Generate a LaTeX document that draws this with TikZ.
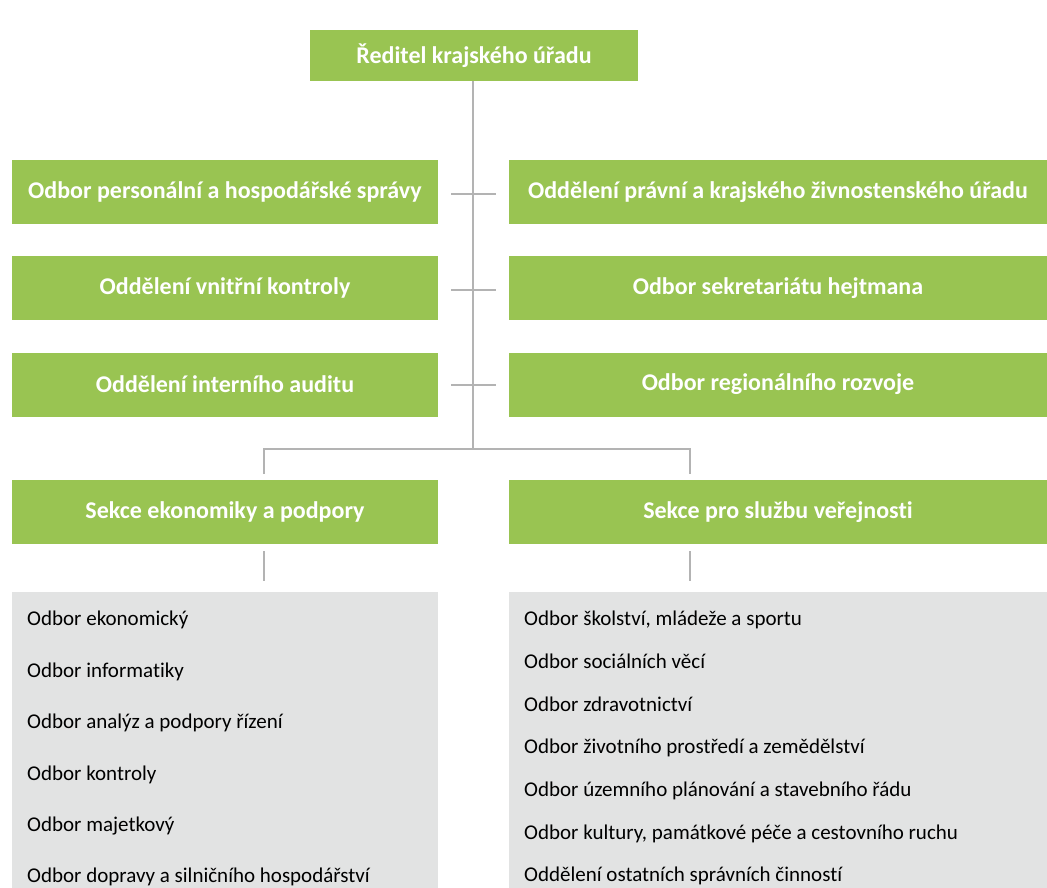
\documentclass[tikz,border=0pt]{standalone}
\usepackage{fontspec}
\setmainfont{Carlito}[RawFeature={-liga;-clig;-calt;-dlig}]
\definecolor{grn}{HTML}{99C452}
\definecolor{lgray}{HTML}{E2E3E3}
\definecolor{lnc}{HTML}{B3B3B3}
\begin{document}
\begin{tikzpicture}[x=1pt,y=-1pt,
  gbox/.style={fill=grn, inner sep=0pt, text=white, font=\fontsize{24}{28}\selectfont\bfseries},
  rowbox/.style={gbox, minimum width=426pt, minimum height=64pt},
  rowboxr/.style={gbox, minimum width=538pt, minimum height=64pt},
  listbox/.style={fill=lgray, inner sep=0pt},
  item/.style={anchor=base west, inner sep=0pt, text=black, font=\fontsize{21}{25}\selectfont},
  conn/.style={draw=lnc, line width=1.5pt}]
\useasboundingbox (0,0) rectangle (1047,888);
% top
\node[gbox, minimum width=328pt, minimum height=51pt] (dir) at (474,55.5) {Ředitel krajského úřadu};
% rows
\node[rowbox] (l1) at (225,192) {Odbor personální a hospodářské správy};
\node[rowboxr] (r1) at (778,192) {Oddělení právní a krajského živnostenského úřadu};
\node[rowbox] (l2) at (225,288) {Oddělení vnitřní kontroly};
\node[rowboxr] (r2) at (778,288) {Odbor sekretariátu hejtmana};
\node[rowbox] (l3) at (225,384.5) {Oddělení interního auditu};
\node[rowboxr] (r3) at (778,384.5) {Odbor regionálního rozvoje};
% sections
\node[rowbox] (sl) at (225,512) {Sekce ekonomiky a podpory};
\node[rowboxr] (sr) at (778,512) {Sekce pro službu veřejnosti};
% list boxes
\node[listbox, minimum width=426pt, minimum height=296pt, anchor=north west] (gl) at (12,592) {};
\node[listbox, minimum width=538pt, minimum height=296pt, anchor=north west] (gr) at (509,592) {};
% connector coordinates
\coordinate (mb) at (473,449);
\coordinate (bl) at (264,449);
\coordinate (br) at (690,449);
\coordinate (blb) at (264,474);
\coordinate (brb) at (690,474);
\coordinate (h1a) at (451,194); \coordinate (h1b) at (496,194);
\coordinate (h2a) at (451,290); \coordinate (h2b) at (496,290);
\coordinate (h3a) at (451,385); \coordinate (h3b) at (496,385);
\coordinate (vl1) at (264,551); \coordinate (vl2) at (264,581);
\coordinate (vr1) at (690,551); \coordinate (vr2) at (690,581);
\draw[conn] (dir.south -| mb) -- (mb);
\draw[conn] (h1a) -- (h1b);
\draw[conn] (h2a) -- (h2b);
\draw[conn] (h3a) -- (h3b);
\draw[conn] (blb) -- (bl) -- (br) -- (brb);
\draw[conn] (vl1) -- (vl2);
\draw[conn] (vr1) -- (vr2);
% left list
\node[item] (a1) at (27,625) {Odbor ekonomický};
\node[item] (a2) at (27,677) {Odbor informatiky};
\node[item] (a3) at (27,728) {Odbor analýz a podpory řízení};
\node[item] (a4) at (27,780) {Odbor kontroly};
\node[item] (a5) at (27,831) {Odbor majetkový};
\node[item] (a6) at (27,882) {Odbor dopravy a silničního hospodářství};
% right list
\node[item] (b1) at (524,625) {Odbor školství, mládeže a sportu};
\node[item] (b2) at (524,668) {Odbor sociálních věcí};
\node[item] (b3) at (524,711) {Odbor zdravotnictví};
\node[item] (b4) at (524,753) {Odbor životního prostředí a zemědělství};
\node[item] (b5) at (524,796) {Odbor územního plánování a stavebního řádu};
\node[item] (b6) at (524,839) {Odbor kultury, památkové péče a cestovního ruchu};
\node[item] (b7) at (524,881) {Oddělení ostatních správních činností};
\end{tikzpicture}
\end{document}
